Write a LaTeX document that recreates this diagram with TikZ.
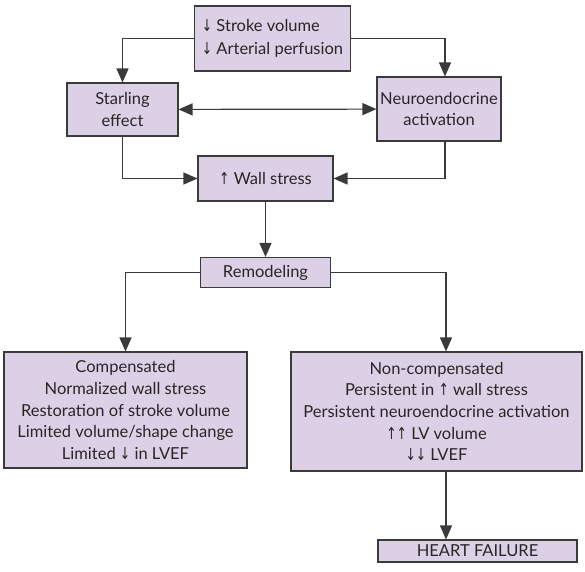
\documentclass[tikz,border=0pt]{standalone}
\usepackage{fontspec}
\setmainfont{Lato}
\newfontfamily\arrowfont{DejaVu Sans}
\usetikzlibrary{positioning,arrows.meta}

\definecolor{boxfill}{HTML}{DCD0E6}
\definecolor{boxline}{HTML}{3A3A3A}
\newcommand{\dnar}{\scalebox{0.75}[1]{\arrowfont\char"2193}}
\newcommand{\upar}{\scalebox{0.75}[1]{\arrowfont\char"2191}}

\begin{document}
\begin{tikzpicture}[x=1pt, y=-1pt,
    box/.style={draw=boxline, fill=boxfill, line width=1.1pt, align=center, inner sep=0pt,
        text=black!85, font=\fontsize{16.5}{21.7}\selectfont},
    link/.style={draw=boxline, line width=1.2pt, -{Triangle[length=14pt,width=12pt]}}]

    \useasboundingbox (0,0) rectangle (585,571);

    \node [box, align=left, minimum width=156pt, minimum height=65pt] (stroke) at (272.5,38.5)
        {\dnar\ Stroke volume\\[1pt]\dnar\ Arterial perfusion};
    \node [box, minimum width=111pt, minimum height=53pt] (starling) at (122.5,109.5) {Starling\\effect};
    \node [box, minimum width=124pt, minimum height=64pt] (neuro) at (439,109) {Neuroendocrine\\activation};
    \node [box, minimum width=135pt, minimum height=45pt] (wall) at (265.5,178.5) {\upar\ Wall stress};
    \node [box, minimum width=130pt, minimum height=30pt] (remod) at (265.5,272.5) {Remodeling};
    \node [box, minimum width=243pt, minimum height=116pt] (comp) at (125.5,410)
        {Compensated\\Normalized wall stress\\Restoration of stroke volume\\Limited volume/shape change\\Limited \dnar\ in LVEF};
    \node [box, minimum width=291pt, minimum height=119pt] (noncomp) at (436.5,411.5)
        {Non-compensated\\Persistent in \upar\ wall stress\\Persistent neuroendocrine activation\\\upar\upar\ LV volume\\\dnar\dnar\ LVEF};
    \node [box, minimum width=199pt, minimum height=22pt] (hf) at (477.5,551) {HEART FAILURE};

    \draw [link] (stroke.west) -| (starling.north);
    \draw [link] (stroke.east) -| ([xshift=6pt]neuro.north);
    \draw [link, {Triangle[length=14pt,width=12pt]}-{Triangle[length=14pt,width=12pt]}] (starling) -- (neuro);
    \draw [link] (starling.south) |- (wall.west);
    \draw [link] ([xshift=6pt]neuro.south) |- (wall.east);
    \draw [link] (wall) -- (remod);
    \draw [link] (remod.west) -| (comp.north);
    \draw [link] (remod.east) -| ([xshift=9.5pt]noncomp.north);
    \draw [link] ([xshift=9.5pt]noncomp.south) -- ([xshift=9.5pt]noncomp.south |- hf.north);
\end{tikzpicture}
\end{document}
